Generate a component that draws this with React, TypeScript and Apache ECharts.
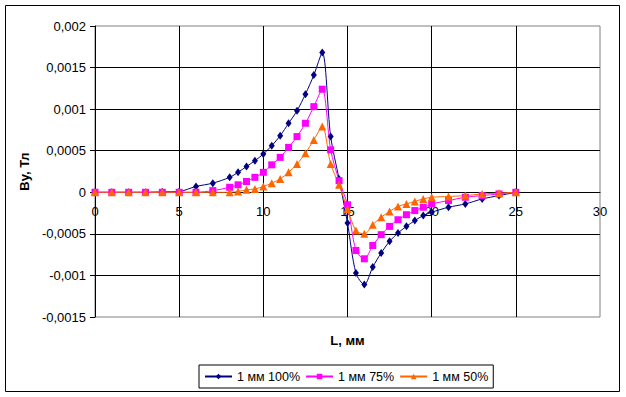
import React, { useEffect, useRef } from "react";
import * as echarts from "echarts";

const xValues = [0, 1, 2, 3, 4, 5, 6, 7, 8, 8.5, 9, 9.5, 10, 10.5, 11, 11.5, 12, 12.5, 13, 13.5, 14, 14.5, 15, 15.5, 16, 16.5, 17, 17.5, 18, 18.5, 19, 19.5, 20, 21, 22, 23, 24, 25];

const blue = [0, 0, 0, 0, 0.000005, 0.00001, 0.00007, 0.00011, 0.00018, 0.00024, 0.00031, 0.00038, 0.00046, 0.00056, 0.00068, 0.00083, 0.00098, 0.00118, 0.00141, 0.00168, 0.00067, 0.00016, -0.00037, -0.00097, -0.00111, -0.0009, -0.00073, -0.00059, -0.00049, -0.00041, -0.00034, -0.00028, -0.00024, -0.00018, -0.00014, -0.00008, -0.00004, 0];

const pink = [0, 0, 0, 0, 0, 0, 0, 0.00002, 0.00006, 0.00009, 0.00013, 0.00018, 0.00024, 0.00033, 0.00042, 0.00054, 0.00067, 0.00083, 0.00103, 0.00124, 0.00051, 0.00014, -0.00015, -0.0007, -0.0008, -0.00064, -0.00051, -0.00041, -0.00033, -0.00027, -0.00022, -0.00018, -0.00014, -0.0001, -0.00006, -0.00004, -0.00002, 0];

const orange = [0, 0, 0, 0, 0, 0, 0, 0, 0, 0.00001, 0.00003, 0.00004, 0.00007, 0.00011, 0.00016, 0.00024, 0.00034, 0.00047, 0.00063, 0.00079, 0.00034, 0.00009, -0.0002, -0.00046, -0.0005, -0.00039, -0.0003, -0.00023, -0.00017, -0.00014, -0.00011, -0.00008, -0.00006, -0.00005, -0.00004, -0.00002, -0.00001, 0];

const seriesNames = ["1 мм 100%", "1 мм 75%", "1 мм 50%"];
const xAxisTitle = "L, мм";
const yAxisTitle = "Ву, Тл";
const yMin = -0.0015;
const yMax = 0.002;

const FONT = "'Liberation Sans', Arial, sans-serif";
const W = 626;
const H = 397;
const GRID = { left: 95, right: 26, top: 26, bottom: 80 };

function pairs(ys: number[]) {
  return xValues.map((x, i) => [x, ys[i]]);
}

export default function App() {
  const ref = useRef<HTMLDivElement>(null);
  useEffect(() => {
    if (!ref.current) return;
    const chart = echarts.init(ref.current, undefined, { renderer: "svg" });
    const fmtY = (v: number) => {
      const r = parseFloat(v.toPrecision(10));
      return String(r).replace(".", ",");
    };
    const plotH = H - GRID.top - GRID.bottom;
    const zeroOffset = -plotH * (0 - yMin) / (yMax - yMin);
    const mk = (name: string, data: number[], color: string, symbol: string, size: number | number[]) => ({
      name,
      type: "line",
      data: pairs(data),
      smooth: 0.3,
      symbol,
      symbolSize: size,
      showAllSymbol: true,
      lineStyle: { color, width: 1 },
      itemStyle: { color, borderWidth: 0 },
    });
    chart.setOption({
      animation: false,
      backgroundColor: "#ffffff",
      textStyle: { fontFamily: FONT },
      grid: {
        left: GRID.left,
        right: GRID.right,
        top: GRID.top,
        bottom: GRID.bottom,
        outerBoundsMode: "none",
        containLabel: false,
        show: true,
        borderColor: "#808080",
        borderWidth: 1,
        backgroundColor: "transparent",
      },
      xAxis: {
        type: "value",
        position: "bottom",
        offset: zeroOffset,
        min: 0,
        max: 30,
        interval: 5,
        name: xAxisTitle,
        nameLocation: "middle",
        nameGap: 142,
        nameTextStyle: { fontFamily: FONT, fontSize: 13, fontWeight: "bold", color: "#000" },
        axisLine: { onZero: false, lineStyle: { color: "#000", width: 1 } },
        axisTick: { show: false },
        axisLabel: { fontFamily: FONT, fontSize: 13, color: "#000", margin: 13 },
        splitLine: { show: true, showMinLine: false, showMaxLine: false, lineStyle: { color: "#000", width: 1 } },
      },
      yAxis: {
        type: "value",
        min: yMin,
        max: yMax,
        interval: 0.0005,
        name: yAxisTitle,
        nameLocation: "middle",
        nameRotate: 90,
        nameGap: 62,
        nameTextStyle: { fontFamily: FONT, fontSize: 13, fontWeight: "bold", color: "#000" },
        axisLine: { show: true, onZero: false, lineStyle: { color: "#000", width: 1 } },
        axisTick: { show: true, length: 5, lineStyle: { color: "#000" } },
        axisLabel: { fontFamily: FONT, fontSize: 13, color: "#000", margin: 9, formatter: fmtY },
        splitLine: { show: true, showMinLine: false, showMaxLine: false, lineStyle: { color: "#000", width: 1 } },
      },
      legend: {
        left: 199,
        bottom: 9,
        orient: "horizontal",
        borderColor: "#000",
        borderWidth: 1,
        padding: [5, 5, 5, 5],
        itemGap: 5,
        itemWidth: 27,
        itemHeight: 7,
        textStyle: { fontFamily: FONT, fontSize: 12.5, color: "#000" },
        data: seriesNames,
      },
      graphic: [
        {
          type: "rect",
          shape: { x: 5.5, y: 5.5, width: 614, height: 386 },
          style: { fill: "none", stroke: "#000", lineWidth: 1 },
          silent: true,
        },
      ],
      series: [
        mk(seriesNames[0], blue, "#000080", "diamond", [6, 8]),
        mk(seriesNames[1], pink, "#ff00ff", "rect", 7),
        mk(seriesNames[2], orange, "#ff6600", "triangle", 8),
      ],
    });
    return () => chart.dispose();
  }, []);
  return (
    <div
      ref={ref}
      style={{ position: "absolute", left: 0, top: 0, width: W, height: H }}
    />
  );
}
